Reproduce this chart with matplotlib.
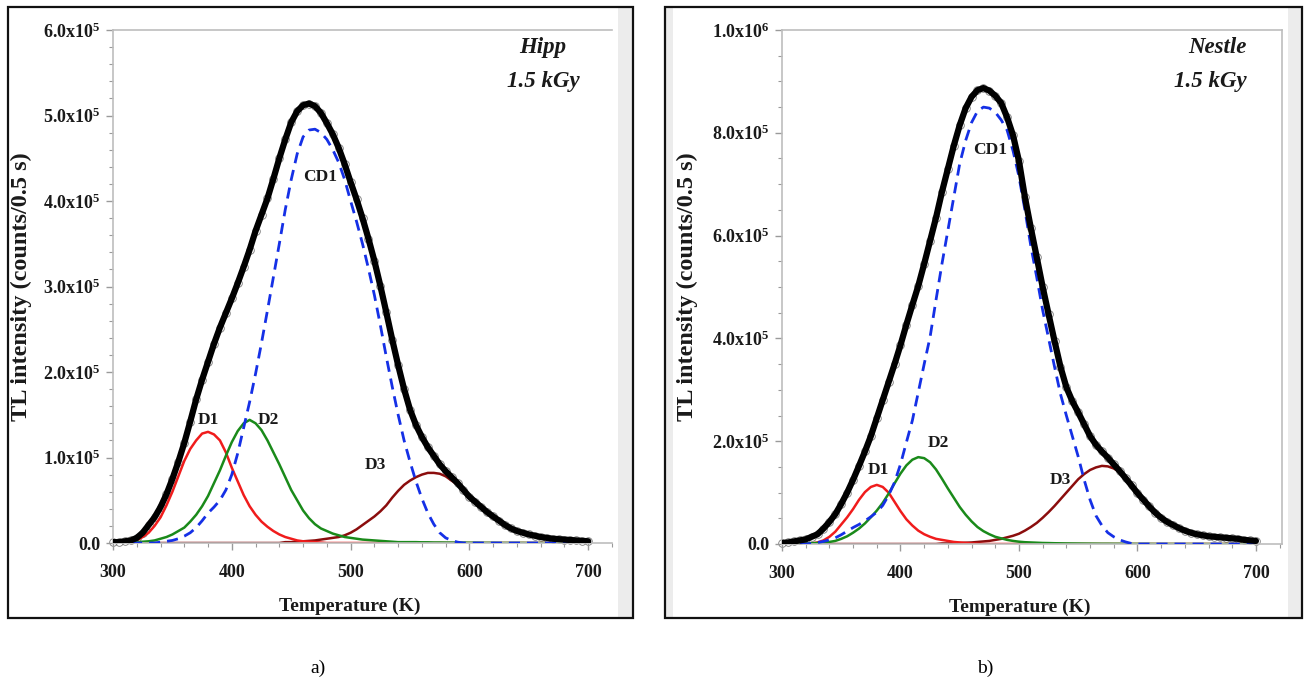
import numpy as np
import matplotlib
matplotlib.use("Agg")
import matplotlib.pyplot as plt
from matplotlib.patches import Rectangle
from matplotlib.ticker import MultipleLocator, FixedLocator

plt.rcParams["font.family"] = ["Liberation Serif", "DejaVu Serif"]
plt.rcParams["mathtext.fontset"] = "custom"
plt.rcParams["mathtext.rm"] = "Liberation Serif"
plt.rcParams["mathtext.bf"] = "Liberation Serif:bold"
plt.rcParams["mathtext.it"] = "Liberation Serif:italic"

# temperature grid shared by every curve (K), 5 K step
temperature = list(range(300, 705, 5))

# ---- a) Hipp 1.5 kGy, intensities in units of 1e5 counts/0.5 s ----
hipp_total = [
    0.01, 0.01, 0.02, 0.03, 0.06, 0.12, 0.21, 0.30, 0.42, 0.57,
    0.75, 0.95, 1.17, 1.42, 1.68, 1.91, 2.12, 2.33, 2.52, 2.69,
    2.86, 3.04, 3.23, 3.43, 3.65, 3.84, 4.03, 4.26, 4.50, 4.72,
    4.92, 5.05, 5.12, 5.14, 5.11, 5.03, 4.91, 4.78, 4.62, 4.43,
    4.22, 4.02, 3.80, 3.56, 3.30, 3.01, 2.70, 2.38, 2.08, 1.80,
    1.56, 1.38, 1.24, 1.12, 1.02, 0.92, 0.84, 0.77, 0.70, 0.62,
    0.54, 0.48, 0.42, 0.36, 0.31, 0.26, 0.21, 0.17, 0.14, 0.12,
    0.10, 0.085, 0.07, 0.06, 0.05, 0.045, 0.04, 0.035, 0.03, 0.025,
    0.02,
]
hipp_cd1 = [
    0, 0, 0, 0, 0, 0, 0, 0, 0.01, 0.02,
    0.03, 0.05, 0.08, 0.12, 0.18, 0.26, 0.35, 0.42, 0.50, 0.62,
    0.80, 1.05, 1.35, 1.65, 1.98, 2.34, 2.72, 3.11, 3.50, 3.90,
    4.25, 4.55, 4.75, 4.83, 4.84, 4.80, 4.72, 4.60, 4.45, 4.25,
    4.00, 3.76, 3.50, 3.21, 2.90, 2.55, 2.18, 1.83, 1.50, 1.20,
    0.95, 0.72, 0.52, 0.35, 0.22, 0.12, 0.06, 0.03, 0.01, 0,
    0, 0, 0, 0, 0, 0, 0, 0, 0, 0,
    0, 0, 0, 0, 0, 0, 0, 0, 0, 0,
    0,
]
hipp_d1 = [
    0, 0, 0.01, 0.02, 0.03, 0.07, 0.12, 0.20, 0.30, 0.44,
    0.60, 0.78, 0.96, 1.10, 1.20, 1.28, 1.30, 1.27, 1.20, 1.06,
    0.88, 0.72, 0.56, 0.43, 0.33, 0.25, 0.19, 0.14, 0.10, 0.07,
    0.05, 0.03, 0.02, 0.015, 0.01, 0.005, 0, 0, 0, 0,
    0, 0, 0, 0, 0, 0, 0, 0, 0, 0,
    0, 0, 0, 0, 0, 0, 0, 0, 0, 0,
    0, 0, 0, 0, 0, 0, 0, 0, 0, 0,
    0, 0, 0, 0, 0, 0, 0, 0, 0, 0,
    0,
]
hipp_d2 = [
    0, 0, 0, 0.005, 0.01, 0.015, 0.02, 0.03, 0.05, 0.07,
    0.10, 0.14, 0.18, 0.25, 0.33, 0.43, 0.55, 0.70, 0.85, 1.02,
    1.18, 1.31, 1.40, 1.44, 1.40, 1.32, 1.20, 1.06, 0.92, 0.77,
    0.62, 0.50, 0.38, 0.29, 0.22, 0.17, 0.14, 0.11, 0.09, 0.07,
    0.06, 0.05, 0.04, 0.035, 0.03, 0.025, 0.02, 0.015, 0.01, 0.01,
    0.01, 0.01, 0.008, 0.008, 0.006, 0.006, 0.005, 0.005, 0.004, 0.004,
    0.003, 0.003, 0.002, 0.002, 0.002, 0.001, 0.001, 0.001, 0.001, 0.001,
    0, 0, 0, 0, 0, 0, 0, 0, 0, 0,
    0,
]
hipp_d3 = [
    0, 0, 0, 0, 0, 0, 0, 0, 0, 0,
    0, 0, 0, 0, 0, 0, 0, 0, 0, 0,
    0, 0, 0, 0, 0, 0, 0, 0, 0, 0.01,
    0.01, 0.015, 0.02, 0.025, 0.03, 0.04, 0.05, 0.06, 0.07, 0.09,
    0.12, 0.16, 0.21, 0.26, 0.31, 0.37, 0.44, 0.53, 0.61, 0.68,
    0.73, 0.77, 0.80, 0.82, 0.82, 0.81, 0.78, 0.73, 0.68, 0.62,
    0.55, 0.48, 0.41, 0.35, 0.30, 0.25, 0.20, 0.16, 0.13, 0.11,
    0.09, 0.075, 0.06, 0.05, 0.045, 0.04, 0.035, 0.03, 0.025, 0.02,
    0.02,
]

# ---- b) Nestle 1.5 kGy ----
nestle_total = [
    0.02, 0.03, 0.05, 0.07, 0.09, 0.14, 0.19, 0.30, 0.43, 0.58,
    0.78, 1.00, 1.25, 1.52, 1.80, 2.10, 2.45, 2.80, 3.15, 3.50,
    3.87, 4.27, 4.65, 5.02, 5.45, 5.90, 6.35, 6.85, 7.30, 7.75,
    8.15, 8.48, 8.70, 8.83, 8.87, 8.82, 8.72, 8.58, 8.30, 7.95,
    7.45, 6.75, 6.15, 5.58, 5.00, 4.47, 3.95, 3.45, 3.05, 2.78,
    2.56, 2.33, 2.10, 1.93, 1.80, 1.68, 1.55, 1.42, 1.28, 1.14,
    0.99, 0.86, 0.73, 0.61, 0.51, 0.43, 0.37, 0.31, 0.26, 0.22,
    0.19, 0.17, 0.15, 0.14, 0.13, 0.12, 0.11, 0.10, 0.08, 0.07,
    0.06,
]
nestle_cd1 = [
    0, 0, 0, 0, 0, 0.01, 0.03, 0.05, 0.08, 0.12,
    0.18, 0.25, 0.32, 0.38, 0.45, 0.53, 0.62, 0.75, 0.95, 1.20,
    1.55, 1.98, 2.40, 2.95, 3.50, 4.03, 4.75, 5.45, 6.10, 6.75,
    7.40, 7.85, 8.20, 8.42, 8.50, 8.48, 8.40, 8.25, 8.05, 7.65,
    7.15, 6.50, 5.80, 5.19, 4.55, 4.00, 3.45, 2.92, 2.50, 2.10,
    1.70, 1.25, 0.86, 0.55, 0.36, 0.22, 0.14, 0.08, 0.04, 0.01,
    0, 0, 0, 0, 0, 0, 0, 0, 0, 0,
    0, 0, 0, 0, 0, 0, 0, 0, 0, 0,
    0,
]
nestle_d1 = [
    0, 0, 0, 0, 0, 0.01, 0.03, 0.07, 0.14, 0.24,
    0.38, 0.52, 0.68, 0.86, 1.01, 1.11, 1.15, 1.11, 1.00, 0.82,
    0.64, 0.48, 0.36, 0.26, 0.19, 0.14, 0.10, 0.08, 0.06, 0.04,
    0.03, 0.02, 0.01, 0.005, 0, 0, 0, 0, 0, 0,
    0, 0, 0, 0, 0, 0, 0, 0, 0, 0,
    0, 0, 0, 0, 0, 0, 0, 0, 0, 0,
    0, 0, 0, 0, 0, 0, 0, 0, 0, 0,
    0, 0, 0, 0, 0, 0, 0, 0, 0, 0,
    0,
]
nestle_d2 = [
    0, 0, 0, 0, 0.01, 0.015, 0.02, 0.03, 0.04, 0.06,
    0.10, 0.15, 0.22, 0.30, 0.40, 0.52, 0.65, 0.80, 0.98, 1.18,
    1.37, 1.53, 1.64, 1.69, 1.67, 1.59, 1.45, 1.27, 1.08, 0.90,
    0.72, 0.57, 0.44, 0.33, 0.25, 0.19, 0.14, 0.11, 0.08, 0.06,
    0.045, 0.035, 0.03, 0.025, 0.02, 0.018, 0.015, 0.013, 0.011, 0.01,
    0.009, 0.008, 0.007, 0.006, 0.005, 0.005, 0.004, 0.004, 0.003, 0.003,
    0.002, 0.002, 0.002, 0.001, 0.001, 0.001, 0.001, 0, 0, 0,
    0, 0, 0, 0, 0, 0, 0, 0, 0, 0,
    0,
]
nestle_d3 = [
    0, 0, 0, 0, 0, 0, 0, 0, 0, 0,
    0, 0, 0, 0, 0, 0, 0, 0, 0, 0,
    0, 0, 0, 0, 0, 0, 0, 0.01, 0.01, 0.015,
    0.02, 0.025, 0.03, 0.04, 0.05, 0.06, 0.08, 0.10, 0.13, 0.16,
    0.20, 0.26, 0.33, 0.41, 0.51, 0.62, 0.74, 0.87, 1.00, 1.13,
    1.26, 1.36, 1.44, 1.49, 1.52, 1.51, 1.47, 1.40, 1.29, 1.15,
    1.00, 0.86, 0.74, 0.62, 0.52, 0.43, 0.36, 0.30, 0.26, 0.22,
    0.19, 0.17, 0.15, 0.14, 0.13, 0.12, 0.11, 0.10, 0.08, 0.07,
    0.06,
]

# tick labels
hipp_yticks = [0, 1e5, 2e5, 3e5, 4e5, 5e5, 6e5]
hipp_ylabels = ["0.0", "1.0x10^5", "2.0x10^5", "3.0x10^5", "4.0x10^5", "5.0x10^5", "6.0x10^5"]
nestle_yticks = [0, 2e5, 4e5, 6e5, 8e5, 1e6]
nestle_ylabels = ["0.0", "2.0x10^5", "4.0x10^5", "6.0x10^5", "8.0x10^5", "1.0x10^6"]
xticks = [300, 400, 500, 600, 700]

W, H = 1307, 684
fig = plt.figure(figsize=(W / 100, H / 100), dpi=100)


def fx(px):
    return px / W


def fy(py):
    return 1 - py / H


def fmt(lbl):
    if "^" in lbl:
        base, exp = lbl.split("^")
        return r"$\mathbf{%s^{%s}}$" % (base, exp)
    return lbl


def panel(rect, curves, yticks, ylabels, yminor, ymax, xmax, sample, dose,
          text_x, text_ha, labels, right_spine, ylab_x):
    ax = fig.add_axes(rect)
    T = np.array(temperature)
    total, cd1, d1, d2, d3 = [np.array(c) * 1e5 for c in curves]
    ax.plot(T, d3, color="#8b0d0d", lw=1.8, zorder=2)
    ax.plot(T, d1, color="#f01c1c", lw=1.8, zorder=2)
    ax.plot(T, d2, color="#1a8a1a", lw=1.8, zorder=2)
    ax.plot(T, cd1, color="#1530e6", lw=2.0, ls=(0, (4, 2.5)), zorder=3)
    ax.plot(T, total, ls="none", marker="o", ms=5.5, mfc="none",
            mec="#7a7a7a", mew=0.6, zorder=1, clip_on=False)
    ax.plot(T, total, color="black", lw=4.5, zorder=4, solid_capstyle="round")

    ax.set_xlim(300, xmax)
    ax.set_ylim(0, ymax)
    ax.xaxis.set_major_locator(FixedLocator(xticks))
    ax.xaxis.set_minor_locator(MultipleLocator(20))
    ax.yaxis.set_major_locator(FixedLocator(yticks))
    ax.yaxis.set_minor_locator(MultipleLocator(yminor))
    ax.set_yticklabels([fmt(l) for l in ylabels])
    ax.set_xticklabels([str(t) for t in xticks])
    for s in ["left", "top", "bottom", "right"]:
        ax.spines[s].set_color("#bdbdbd")
        ax.spines[s].set_linewidth(1.2)
    ax.spines["right"].set_visible(right_spine)
    ax.tick_params(axis="both", which="both", colors="#9a9a9a", direction="out")
    ax.tick_params(axis="both", which="major", length=5, width=1.0,
                   labelsize=13, labelcolor="#1a1a1a")
    ax.tick_params(axis="both", which="minor", length=3, width=0.8)
    ax.tick_params(axis="y", which="major", pad=4)
    ax.tick_params(axis="x", which="major", pad=10)
    for lab in ax.get_xticklabels() + ax.get_yticklabels():
        lab.set_fontweight("bold")

    ax.set_xlabel("Temperature (K)", fontsize=14, fontweight="bold", color="#1a1a1a")
    ax.set_ylabel("TL intensity (counts/0.5 s)", fontsize=17.5, fontweight="bold",
                  color="#1a1a1a")
    ax.xaxis.set_label_coords(0.475, -0.107)
    ax.yaxis.set_label_coords(ylab_x, 0.5)

    for name, (tx, ty) in labels.items():
        ax.text(tx, ty * 1e5, name, fontsize=12.5, fontweight="bold",
                ha="center", va="center", color="#1a1a1a", zorder=5)

    ax.text(text_x, 0.965, sample, transform=ax.transAxes, ha=text_ha, va="center",
            fontsize=16.5, fontweight="bold", style="italic", color="#1a1a1a")
    ax.text(text_x, 0.9, dose, transform=ax.transAxes, ha=text_ha, va="center",
            fontsize=16.5, fontweight="bold", style="italic", color="#1a1a1a")
    return ax


panel([fx(113), fy(543), fx(612 - 113), (543 - 30) / H],
      [hipp_total, hipp_cd1, hipp_d1, hipp_d2, hipp_d3],
      hipp_yticks, hipp_ylabels, 0.2e5, 6e5, 720, "Hipp", "1.5 kGy",
      (543 - 113) / 499, "center",
      {"D1": (380, 1.44), "D2": (431, 1.44), "D3": (521, 0.91), "CD1": (474, 4.28)},
      False, -0.163)

panel([fx(782), fy(544), fx(500), (544 - 30) / H],
      [nestle_total, nestle_cd1, nestle_d1, nestle_d2, nestle_d3],
      nestle_yticks, nestle_ylabels, 0.5e5, 1e6, 722, "Nestle", "1.5 kGy",
      (1247 - 782) / 500, "right",
      {"D1": (381, 1.44), "D2": (432, 1.96), "D3": (535, 1.25), "CD1": (476, 7.67)},
      True, -0.168)

# panel frames with the light grey side strips
for x0, y0, x1, y1 in [(618, 8, 633, 618), (666, 8, 673, 618), (1288, 8, 1302, 618)]:
    fig.patches.append(Rectangle((fx(x0), fy(y1)), fx(x1 - x0), (y1 - y0) / H,
                                 transform=fig.transFigure, facecolor="#ececec",
                                 edgecolor="none", zorder=0))
for x0, y0, x1, y1 in [(8, 7, 633, 618), (665, 7, 1302, 618)]:
    fig.patches.append(Rectangle((fx(x0), fy(y1)), fx(x1 - x0), (y1 - y0) / H,
                                 transform=fig.transFigure, facecolor="none",
                                 edgecolor="#111111", lw=1.6, zorder=1))

fig.text(fx(318), fy(668), "a)", ha="center", va="center", fontsize=14)
fig.text(fx(985), fy(668), "b)", ha="center", va="center", fontsize=14)

fig.savefig("out.png", dpi=100)
